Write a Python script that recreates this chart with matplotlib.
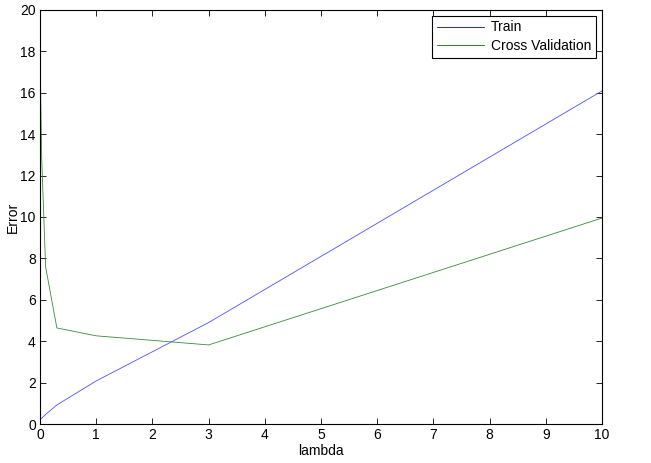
import matplotlib
matplotlib.use('Agg')
from matplotlib import pyplot as plt

lambdas = [0, 0.001, 0.003, 0.01, 0.03, 0.1, 0.3, 1, 3, 10]
train_err = [0.17, 0.16, 0.19, 0.22, 0.28, 0.46, 0.92, 2.08, 4.90, 16.09]
cv_err = [22.07, 18.6, 17.7, 16.4, 12.83, 7.59, 4.64, 4.26, 3.82, 9.95]

plt.rcParams['font.family'] = ['Liberation Sans', 'DejaVu Sans']
plt.rcParams['font.size'] = 10

fig = plt.figure(figsize=(6.51, 4.63), dpi=100)
ax = fig.add_axes([40 / 651, 39 / 463, 562 / 651, 414 / 463])

ax.plot(lambdas, train_err, color='#5050ff', lw=0.6, label='Train')
ax.plot(lambdas, cv_err, color='#3a8a3a', lw=0.6, label='Cross Validation')

ax.set_xlim(0, 10)
ax.set_ylim(0, 20)
ax.set_xticks(range(0, 11))
ax.set_yticks(range(0, 21, 2))
ax.tick_params(direction='in', top=True, right=True, length=4, width=0.6, pad=3)
for s in ax.spines.values():
    s.set_linewidth(0.8)

ax.set_xlabel('lambda', labelpad=1)
ax.set_ylabel('Error', labelpad=0)

leg = ax.legend(loc='upper right', fancybox=False, framealpha=1, edgecolor='black',
                borderaxespad=0.4, handlelength=3.4, borderpad=0.35, labelspacing=0.35,
                handletextpad=0.5)
leg.get_frame().set_linewidth(0.8)
leg.legend_handles[0].set_color('#0000ff')
leg.legend_handles[1].set_color('#007f00')

fig.savefig('out.png', dpi=100)
